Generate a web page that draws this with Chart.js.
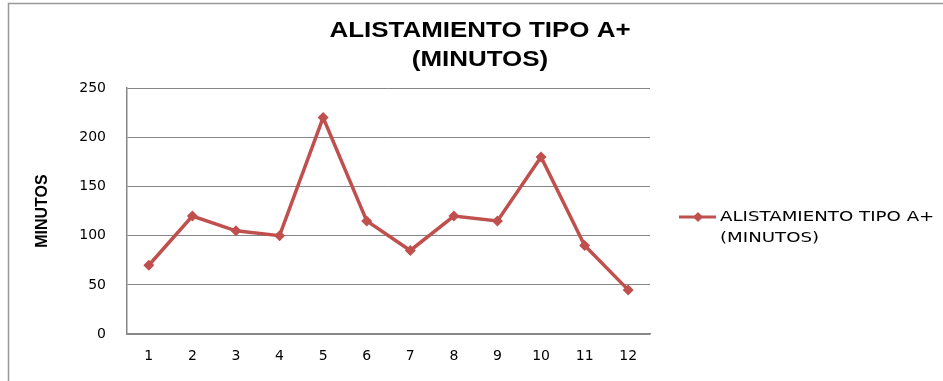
<!DOCTYPE html>
<html>
<head>
<meta charset="utf-8">
<script src="https://cdn.jsdelivr.net/npm/chart.js@4/dist/chart.umd.min.js"></script>
<style>
  html, body { margin: 0; padding: 0; background: #fff; }
  #wrap { width: 943px; height: 381px; position: relative; }
</style>
</head>
<body>
<div id="wrap"><canvas id="alistamientoChart"></canvas></div>
<script>
// data
const meses = ['1', '2', '3', '4', '5', '6', '7', '8', '9', '10', '11', '12'];
const minutos = [70, 120, 105, 100, 220, 115, 85, 120, 115, 180, 90, 45];
const tituloLineas = ['ALISTAMIENTO TIPO A+', '(MINUTOS)'];
const serieNombre = ['ALISTAMIENTO TIPO A+', '(MINUTOS)'];
const ejeY = 'MINUTOS';

const ROJO = '#C0504D';
const GRIS = '#868686';

// stretched text, the reference looks wider than our fonts
function textoAncho(ctx, txt, x, y, sx) {
    ctx.save();
    ctx.translate(x, y);
    ctx.scale(sx, 1);
    ctx.fillText(txt, 0, 0);
    ctx.restore();
}

// frame, title and legend drawn by hand (excel-ish look)
const decoracion = {
    id: 'decoracion',
    afterDraw: function(chart) {
        const ctx = chart.ctx;
        ctx.save();

        // outer frame (left + top only visible in the crop)
        ctx.strokeStyle = '#999';
        ctx.lineWidth = 1.5;
        ctx.beginPath();
        ctx.moveTo(8.5, 381);
        ctx.lineTo(8.5, 3.5);
        ctx.lineTo(943, 3.5);
        ctx.stroke();

        // title
        ctx.fillStyle = '#000';
        ctx.font = 'bold 22px "Liberation Sans"';
        ctx.textAlign = 'center';
        ctx.textBaseline = 'middle';
        textoAncho(ctx, tituloLineas[0], 480, 31, 1.18);
        textoAncho(ctx, tituloLineas[1], 480, 60, 1.18);

        // legend
        const ly = 217;
        ctx.strokeStyle = ROJO;
        ctx.lineWidth = 3;
        ctx.beginPath();
        ctx.moveTo(679, ly);
        ctx.lineTo(716, ly);
        ctx.stroke();
        ctx.fillStyle = ROJO;
        ctx.beginPath();
        ctx.moveTo(698, ly - 5);
        ctx.lineTo(703, ly);
        ctx.lineTo(698, ly + 5);
        ctx.lineTo(693, ly);
        ctx.closePath();
        ctx.fill();

        ctx.fillStyle = '#000';
        ctx.font = '14px "DejaVu Sans"';
        ctx.textAlign = 'left';
        textoAncho(ctx, serieNombre[0], 720, ly, 1.3);
        textoAncho(ctx, serieNombre[1], 720, ly + 21, 1.3);

        ctx.restore();
    }
};

document.addEventListener('DOMContentLoaded', function() {
    const ctx = document.getElementById('alistamientoChart');
    new Chart(ctx, {
        type: 'line',
        data: {
            labels: meses,
            datasets: [{
                label: serieNombre.join(' '),
                data: minutos,
                borderColor: ROJO,
                backgroundColor: ROJO,
                borderWidth: 3.5,
                tension: 0,
                pointStyle: 'rectRot',
                pointRadius: 5.5,
                pointHoverRadius: 5.5,
                pointBorderWidth: 0
            }]
        },
        options: {
            responsive: true,
            maintainAspectRatio: false,
            animation: false,
            events: [],
            layout: {
                padding: { left: 0, right: 293, top: 88, bottom: 2 }
            },
            plugins: {
                legend: { display: false },
                title: { display: false },
                tooltip: { enabled: false }
            },
            scales: {
                x: {
                    offset: true,
                    grid: { display: false, drawTicks: false },
                    border: { color: GRIS, width: 1.5 },
                    ticks: {
                        color: '#000',
                        padding: 14,
                        font: { family: '"DejaVu Sans"', size: 14 }
                    }
                },
                y: {
                    min: 0,
                    max: 250,
                    ticks: {
                        stepSize: 50,
                        color: '#000',
                        padding: 21,
                        font: { family: '"DejaVu Sans"', size: 14 }
                    },
                    grid: { color: GRIS, lineWidth: 1, drawTicks: false },
                    border: { color: GRIS, width: 1.5 },
                    title: {
                        display: true,
                        text: ejeY,
                        color: '#000',
                        font: { family: '"Liberation Sans Narrow", "Liberation Sans"', size: 16, weight: 'bold' },
                        padding: { top: 33, bottom: 0 }
                    },
                    afterFit: function(scale) {
                        scale.width = 127;
                    }
                }
            }
        },
        plugins: [decoracion]
    });
});
</script>
</body>
</html>
